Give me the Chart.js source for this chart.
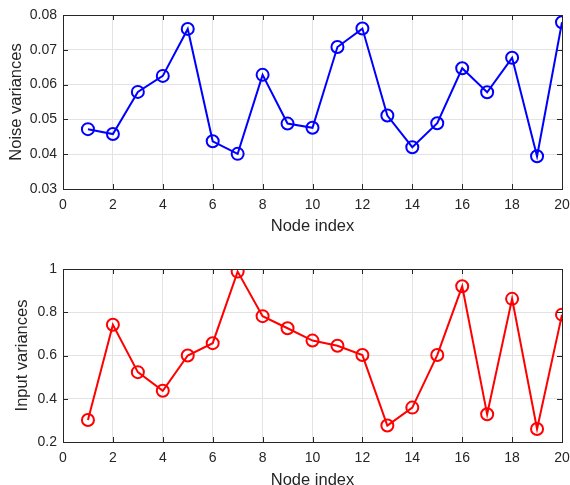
<!DOCTYPE html>
<html>
<head>
<meta charset="utf-8">
<script src="https://cdn.jsdelivr.net/npm/chart.js@4"></script>
<style>
  html, body { margin: 0; padding: 0; background: #fff; overflow: hidden; }
  .pane { position: absolute; left: 0; width: 570px; height: 240px; }
  #p1 { top: 0; }
  #p2 { top: 254px; }
</style>
</head>
<body>
<div class="pane" id="p1"><canvas id="noiseChart"></canvas></div>
<div class="pane" id="p2"><canvas id="inputChart"></canvas></div>
<script>
const nodeIdx = [1, 2, 3, 4, 5, 6, 7, 8, 9, 10, 11, 12, 13, 14, 15, 16, 17, 18, 19, 20];
const noiseVar = [0.0472, 0.0458, 0.0579, 0.0625, 0.0760, 0.0437, 0.0401, 0.0628, 0.0488, 0.0476,
                  0.0708, 0.0761, 0.0511, 0.0420, 0.0489, 0.0647, 0.0578, 0.0677, 0.0394, 0.0779];
const inputVar = [0.302, 0.742, 0.523, 0.437, 0.600, 0.657, 0.988, 0.782, 0.726, 0.669,
                  0.645, 0.602, 0.276, 0.359, 0.602, 0.920, 0.328, 0.862, 0.260, 0.789];
const xTicks = [0, 2, 4, 6, 8, 10, 12, 14, 16, 18, 20];

const TXT = '#262626';
const FONT = "'Liberation Sans', Arial, sans-serif";

// box around the axes plus short inward tick marks on all four sides
const boxTicks = {
  id: 'boxTicks',
  afterDraw(chart) {
    const { ctx, chartArea: a, scales: { x, y } } = chart;
    const L = 5;
    ctx.save();
    ctx.strokeStyle = TXT;
    ctx.lineWidth = 1;
    ctx.beginPath();
    x.ticks.forEach(t => {
      const px = Math.round(x.getPixelForValue(t.value)) + 0.5;
      ctx.moveTo(px, a.bottom); ctx.lineTo(px, a.bottom - L);
      ctx.moveTo(px, a.top);    ctx.lineTo(px, a.top + L);
    });
    y.ticks.forEach(t => {
      const py = Math.round(y.getPixelForValue(t.value)) + 0.5;
      ctx.moveTo(a.left, py);  ctx.lineTo(a.left + L, py);
      ctx.moveTo(a.right, py); ctx.lineTo(a.right - L, py);
    });
    ctx.stroke();
    ctx.strokeRect(Math.round(a.left) + 0.5, Math.round(a.top) + 0.5,
                   Math.round(a.right - a.left), Math.round(a.bottom - a.top));
    ctx.restore();
  }
};

function makeChart(id, vals, color, yLabel, yMin, yMax, yStep, yFmt, titlePad, plotH) {
  const padTop = 15;
  return new Chart(document.getElementById(id).getContext('2d'), {
    type: 'line',
    data: {
      labels: nodeIdx,
      datasets: [{
        data: nodeIdx.map((n, i) => ({ x: n, y: vals[i] })),
        borderColor: color, borderWidth: 2,
        pointStyle: 'circle', pointRadius: 6, pointBorderWidth: 2,
        pointBorderColor: color, pointBackgroundColor: 'transparent',
        tension: 0, fill: false,
      }],
    },
    options: {
      responsive: true, maintainAspectRatio: false, animation: false,
      layout: { padding: { top: padTop, right: 8, left: 0, bottom: 0 } },
      plugins: { legend: { display: false }, tooltip: { enabled: false } },
      scales: {
        x: {
          type: 'linear', min: 0, max: 20,
          afterBuildTicks: s => { s.ticks = xTicks.map(v => ({ value: v })); },
          afterFit: s => { s.height = 240 - padTop - plotH; s.paddingLeft = 0; s.paddingRight = 0; },
          border: { display: false },
          grid: { color: '#e3e3e3', drawTicks: false },
          ticks: { color: TXT, font: { family: FONT, size: 14 }, padding: 8, maxRotation: 0 },
          title: { display: true, text: 'Node index', color: TXT, font: { family: FONT, size: 16.5 }, padding: { top: 1 } },
        },
        y: {
          min: yMin, max: yMax,
          afterBuildTicks: s => {
            const t = [];
            for (let v = yMin; v <= yMax + yStep / 2; v += yStep) t.push({ value: +v.toFixed(4) });
            s.ticks = t;
          },
          afterFit: s => { s.width = 63; },
          border: { display: false },
          grid: { color: '#e3e3e3', drawTicks: false },
          ticks: { color: TXT, font: { family: FONT, size: 14 }, padding: 6, callback: yFmt },
          title: { display: true, text: yLabel, color: TXT, font: { family: FONT, size: 16.5 }, padding: { top: titlePad, bottom: 0 } },
        },
      },
    },
    plugins: [boxTicks],
  });
}

makeChart('noiseChart', noiseVar, '#0000ff', 'Noise variances', 0.03, 0.08, 0.01,
  v => v.toFixed(2), 7, 174);
makeChart('inputChart', inputVar, '#ff0000', 'Input variances', 0.2, 1, 0.2,
  v => (v === 1 ? '1' : v.toFixed(1)), 13, 173);
</script>
</body>
</html>
